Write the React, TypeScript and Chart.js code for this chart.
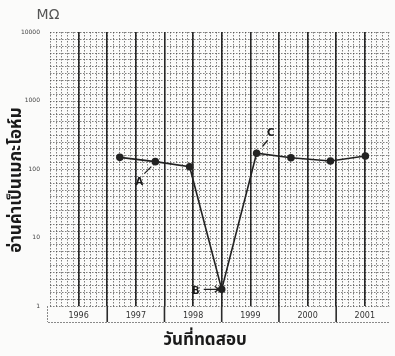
import React, { useEffect, useRef } from "react";
import { Chart, registerables } from "chart.js";

Chart.register(...registerables);

// Test dates (fractional years) and insulation resistance readings (MΩ)
const testDates = [1997.22, 1997.84, 1998.44, 1999.0, 1999.61, 2000.21, 2000.9, 2001.51];
const megaohms = [148, 128, 108, 1.75, 170, 146, 131, 155];
const yearLabels = [1996, 1997, 1998, 1999, 2000, 2001];
const yTickValues = [1, 10, 100, 1000, 10000];
const pointTags = ["", "A", "", "B", "C", "", "", ""];

const unitText = "MΩ";
const yTitle = "อ่านค่าเป็นเมกะโอห์ม";
const xTitle = "วันที่ทดสอบ";
const thaiFont = '"Noto Sans Thai", "Noto Sans", "DejaVu Sans", sans-serif';

const paperPlugin = {
  id: "paper",
  beforeDraw(chart: any) {
    const { ctx, chartArea, scales } = chart;
    const xs = scales.x;
    const ys = scales.y;
    ctx.save();
    ctx.fillStyle = "#fbfbfa";
    ctx.fillRect(0, 0, chart.width, chart.height);
    ctx.strokeStyle = "rgba(60,60,60,0.65)";
    ctx.lineWidth = 1;
    ctx.setLineDash([1.5, 1.5]);
    // minor verticals every 0.1 year
    for (let i = 0; i <= 60; i++) {
      const v = yearLabels[0] + i / 10;
      if (v > xs.max) break;
      const px = Math.round(xs.getPixelForValue(v)) + 0.5;
      ctx.beginPath();
      ctx.moveTo(px, chartArea.top);
      ctx.lineTo(px, chartArea.bottom + 2);
      ctx.stroke();
    }
    // minor horizontals every 0.1 decade
    for (let k = 0; k <= 40; k++) {
      const v = Math.pow(10, k / 10);
      const py = Math.round(ys.getPixelForValue(v)) + 0.5;
      ctx.beginPath();
      ctx.moveTo(chartArea.left, py);
      ctx.lineTo(chartArea.right, py);
      ctx.stroke();
    }
    ctx.restore();
  },
  afterDraw(chart: any) {
    const { ctx, chartArea, scales } = chart;
    const xs = scales.x;
    const meta = chart.getDatasetMeta(0);
    ctx.save();
    // label strip below the grid
    const stripBottom = chartArea.bottom + 16;
    ctx.strokeStyle = "rgba(90,90,90,0.7)";
    ctx.lineWidth = 1;
    ctx.setLineDash([2, 1]);
    ctx.beginPath();
    ctx.moveTo(chartArea.left - 2, stripBottom + 0.5);
    ctx.lineTo(chartArea.right, stripBottom + 0.5);
    ctx.moveTo(chartArea.left - 2.5, chartArea.bottom);
    ctx.lineTo(chartArea.left - 2.5, stripBottom);
    ctx.stroke();
    ctx.setLineDash([]);
    ctx.strokeStyle = "#2b2b2b";
    ctx.lineWidth = 1.6;
    yearLabels.forEach((yr, i) => {
      if (i === 0) return;
      const px = xs.getPixelForValue(yr);
      ctx.beginPath();
      ctx.moveTo(px, chartArea.bottom);
      ctx.lineTo(px, stripBottom);
      ctx.stroke();
    });
    // unit
    ctx.fillStyle = "#555";
    ctx.font = '14px "DejaVu Sans", sans-serif';
    ctx.textAlign = "center";
    ctx.textBaseline = "middle";
    ctx.fillText(unitText, chartArea.left - 2, chartArea.top - 17);
    // axis titles
    ctx.fillStyle = "#1a1a1a";
    ctx.font = "bold 17px " + thaiFont;
    ctx.fillText(xTitle, 205, 342);
    ctx.save();
    ctx.translate(18, 180);
    ctx.rotate(-Math.PI / 2);
    ctx.fillText(yTitle, 0, 0);
    ctx.restore();
    // point annotations
    ctx.font = 'bold 10px "DejaVu Sans", sans-serif';
    ctx.strokeStyle = "#222";
    ctx.lineWidth = 1.3;
    pointTags.forEach((tag, i) => {
      if (!tag) return;
      const p = meta.data[i];
      const x = p.x;
      const y = p.y;
      ctx.beginPath();
      if (tag === "A") {
        ctx.fillText(tag, x - 16, y + 21);
        ctx.moveTo(x - 11, y + 12);
        ctx.lineTo(x - 4, y + 5);
      } else if (tag === "B") {
        ctx.fillText(tag, x - 26, y + 2);
        ctx.moveTo(x - 18, y);
        ctx.lineTo(x - 3, y);
        ctx.moveTo(x - 7, y - 3);
        ctx.lineTo(x - 3, y);
        ctx.lineTo(x - 7, y + 3);
      } else {
        ctx.fillText(tag, x + 14, y - 20);
        ctx.moveTo(x + 11, y - 13);
        ctx.lineTo(x + 6, y - 7);
      }
      ctx.stroke();
    });
    ctx.restore();
  },
};

export default function App() {
  const ref = useRef<HTMLCanvasElement>(null);
  useEffect(() => {
    document.body.style.margin = "0";
    const canvas = ref.current!;
    const chart = new Chart(canvas, {
      type: "line",
      data: {
        datasets: [
          {
            data: testDates.map((d, i) => ({ x: d, y: megaohms[i] })),
            borderColor: "#222",
            borderWidth: 1.6,
            pointRadius: 3,
            pointBackgroundColor: "#222",
            pointBorderColor: "#222",
            tension: 0,
          },
        ],
      },
      options: {
        animation: false,
        responsive: false,
        layout: { padding: { top: 32, right: 1, left: 0, bottom: 0 } },
        plugins: { legend: { display: false }, tooltip: { enabled: false } },
        scales: {
          x: {
            type: "linear",
            min: yearLabels[0],
            max: yearLabels[yearLabels.length - 1] + 0.93,
            afterBuildTicks: (scale: any) => {
              const t: any[] = [];
              yearLabels.forEach((y) => {
                t.push({ value: y });
                t.push({ value: y + 0.5 });
              });
              scale.ticks = t;
            },
            afterFit: (scale: any) => {
              scale.height = 50;
            },
            border: { display: false },
            grid: {
              drawTicks: false,
              color: (c: any) => (c.tick && c.tick.value === yearLabels[0] ? "rgba(0,0,0,0)" : "#262626"),
              lineWidth: 1.6,
            },
            ticks: {
              autoSkip: false,
              maxRotation: 0,
              padding: 5,
              color: "#333",
              font: { size: 8, family: '"DejaVu Sans", sans-serif' },
              callback: (v: any) => (Math.abs(v - Math.floor(v) - 0.5) < 1e-6 ? String(Math.floor(v)) : ""),
            },
          },
          y: {
            type: "logarithmic",
            min: yTickValues[0],
            max: yTickValues[yTickValues.length - 1],
            afterBuildTicks: (scale: any) => {
              scale.ticks = yTickValues.map((v) => ({ value: v }));
            },
            afterFit: (scale: any) => {
              scale.width = 50;
            },
            border: { display: false },
            grid: { display: false },
            ticks: {
              padding: 2,
              color: "#444",
              font: { size: 6, family: '"DejaVu Sans", sans-serif' },
              callback: (v: any) => String(v),
            },
          },
        },
      },
      plugins: [paperPlugin],
    });
    return () => chart.destroy();
  }, []);
  return <canvas ref={ref} width={395} height={356} style={{ display: "block" }} />;
}
